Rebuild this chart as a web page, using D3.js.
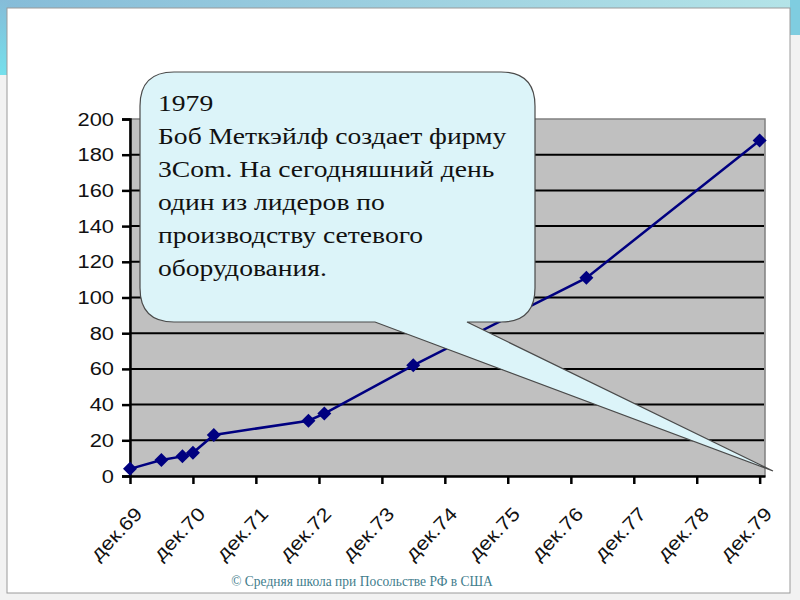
<!DOCTYPE html>
<html>
<head>
<meta charset="utf-8">
<script src="https://cdn.jsdelivr.net/npm/d3@7.9.0/dist/d3.min.js"></script>
<style>
  html, body { margin: 0; padding: 0; background: #f2f2f2; }
  svg { display: block; }
</style>
</head>
<body>
<svg id="chart" width="800" height="600"></svg>
<script>
// ARPANET hosts, dates and values
const dates  = ['1969-12', '1970-06', '1970-10', '1970-12', '1971-04', '1972-10', '1973-01', '1974-06', '1977-03', '1979-12'];
const values = [4, 9, 11, 13, 23, 31, 35, 62, 111, 188];
const yTicks = [0, 20, 40, 60, 80, 100, 120, 140, 160, 180, 200];
const xTickYears = [1969, 1970, 1971, 1972, 1973, 1974, 1975, 1976, 1977, 1978, 1979];

const calloutLines = [
  '1979',
  'Боб Меткэйлф создает фирму',
  '3Com. На сегодняшний день',
  'один из лидеров по',
  'производству сетевого',
  'оборудования.'
];
const footer = '© Средняя школа при Посольстве РФ в США';

const parseMonth = d3.timeParse('%Y-%m');
const data = dates.map((d, i) => ({ date: parseMonth(d), value: values[i] }));

const svg = d3.select('#chart');

// slide background / frame
const defs = svg.append('defs');
const grad = defs.append('linearGradient').attr('id', 'topband');
grad.append('stop').attr('offset', '0%').attr('stop-color', '#86bcd8');
grad.append('stop').attr('offset', '100%').attr('stop-color', '#b4e4e8');
svg.append('rect').attr('x', 0).attr('y', 0).attr('width', 800).attr('height', 9).attr('fill', 'url(#topband)');
const grad2 = defs.append('linearGradient').attr('id', 'leftband').attr('x1', 0).attr('y1', 0).attr('x2', 0).attr('y2', 1);
grad2.append('stop').attr('offset', '0%').attr('stop-color', '#86bcd8');
grad2.append('stop').attr('offset', '100%').attr('stop-color', '#74e0ec');
svg.append('rect').attr('x', 0).attr('y', 0).attr('width', 7).attr('height', 75).attr('fill', 'url(#leftband)');
svg.append('rect').attr('x', 790).attr('y', 0).attr('width', 10).attr('height', 35).attr('fill', '#7fcde0');
svg.append('rect')
  .attr('x', 7).attr('y', 8).attr('width', 783).attr('height', 585)
  .attr('fill', '#fff').attr('stroke', '#9a9a9a').attr('stroke-width', 1);

// scales
const x = d3.scaleTime()
  .domain([parseMonth('1969-12'), parseMonth('1980-01')])
  .range([130, 765]);
const y = d3.scaleLinear().domain([0, 200]).range([476, 119]);

// plot area
svg.append('rect')
  .attr('x', x.range()[0]).attr('y', y(200))
  .attr('width', x.range()[1] - x.range()[0]).attr('height', y(0) - y(200))
  .attr('fill', '#c0c0c0').attr('stroke', '#808080').attr('stroke-width', 1.5);

// gridlines
svg.append('g')
  .selectAll('line')
  .data(yTicks.filter(t => t > 0 && t < 200))
  .join('line')
  .attr('x1', x.range()[0]).attr('x2', x.range()[1] - 1)
  .attr('y1', d => y(d)).attr('y2', d => y(d))
  .attr('stroke', '#000').attr('stroke-width', 2);

// y axis (labels are a bit stretched on the slide)
const yAxis = svg.append('g')
  .attr('transform', `translate(${x.range()[0]},0)`)
  .call(d3.axisLeft(y).tickValues(yTicks).tickSize(8).tickPadding(8));
yAxis.select('.domain').attr('stroke', '#000').attr('stroke-width', 2.5);
yAxis.selectAll('.tick line').attr('stroke', '#000').attr('stroke-width', 2.5);
yAxis.selectAll('.tick text')
  .attr('font-family', 'Liberation Sans, Arial, sans-serif')
  .attr('font-size', 19).attr('fill', '#111')
  .attr('x', -16 / 1.15)
  .attr('transform', 'scale(1.15,1)');

// x axis
const xTickDates = xTickYears.map(yr => new Date(yr, 11, 1));
const monthsRu = d => 'дек.' + d3.timeFormat('%y')(d);
const xAxis = svg.append('g')
  .attr('transform', `translate(0,${y(0)})`)
  .call(d3.axisBottom(x).tickValues(xTickDates).tickFormat(monthsRu).tickSize(8).tickSizeOuter(0));
xAxis.select('.domain').attr('stroke', '#000').attr('stroke-width', 2.5);
xAxis.selectAll('.tick line').attr('stroke', '#000').attr('stroke-width', 2.5);
xAxis.selectAll('.tick text')
  .attr('font-family', 'Liberation Sans, Arial, sans-serif')
  .attr('font-size', 19).attr('fill', '#111')
  .attr('text-anchor', 'end')
  .attr('y', 0).attr('dy', 0)
  .attr('transform', 'translate(13,39) rotate(-46) scale(1.15,1)');

// series line + markers
const line = d3.line().x(d => x(d.date)).y(d => y(d.value));
svg.append('path')
  .datum(data)
  .attr('d', line)
  .attr('fill', 'none').attr('stroke', '#000080').attr('stroke-width', 2.5);

svg.append('g')
  .selectAll('path')
  .data(data)
  .join('path')
  .attr('d', d3.symbol(d3.symbolDiamond2, 125))
  .attr('transform', d => `translate(${x(d.date)},${y(d.value)})`)
  .attr('fill', '#000080');

// callout bubble with pointer
const bx = 140, by = 72, bw = 395, bh = 250, br = 34;
const tip = [773, 471];
const p1 = [375, by + bh], p2 = [467, by + bh];
const bubble = d3.path();
bubble.moveTo(bx + br, by);
bubble.lineTo(bx + bw - br, by);
bubble.quadraticCurveTo(bx + bw, by, bx + bw, by + br);
bubble.lineTo(bx + bw, by + bh - br);
bubble.quadraticCurveTo(bx + bw, by + bh, bx + bw - br, by + bh);
bubble.lineTo(p2[0], p2[1]);
bubble.lineTo(tip[0], tip[1]);
bubble.lineTo(p1[0], p1[1]);
bubble.lineTo(bx + br, by + bh);
bubble.quadraticCurveTo(bx, by + bh, bx, by + bh - br);
bubble.lineTo(bx, by + br);
bubble.quadraticCurveTo(bx, by, bx + br, by);
bubble.closePath();
svg.append('path')
  .attr('d', bubble.toString())
  .attr('fill', '#dcf4f9').attr('stroke', '#4a4a4a').attr('stroke-width', 1.2);

svg.append('g')
  .attr('transform', 'translate(158,0) scale(1.2,1)')
  .selectAll('text')
  .data(calloutLines)
  .join('text')
  .attr('x', 0)
  .attr('y', (d, i) => 111 + i * 33)
  .attr('font-family', 'Liberation Serif, Times New Roman, serif')
  .attr('font-size', 23)
  .attr('fill', '#111')
  .text(d => d);

// footer
svg.append('text')
  .attr('transform', 'translate(362,586) scale(0.9,1)')
  .attr('text-anchor', 'middle')
  .attr('font-family', 'Liberation Serif, Times New Roman, serif')
  .attr('font-size', 15)
  .attr('fill', '#3f7d8c')
  .text(footer);
</script>
</body>
</html>
